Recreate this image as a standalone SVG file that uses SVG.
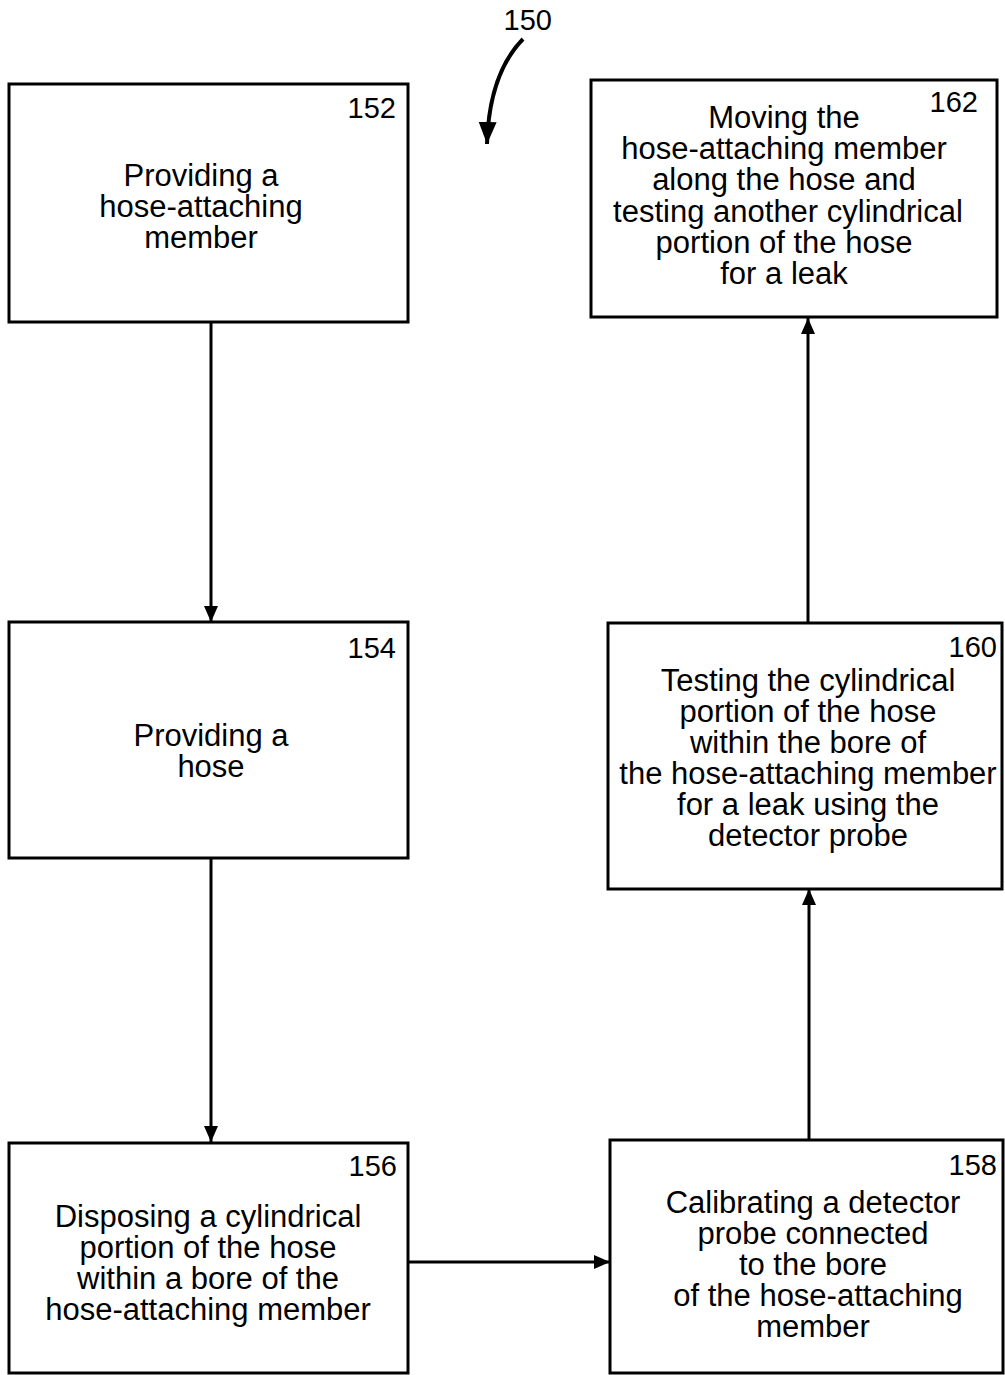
<svg xmlns="http://www.w3.org/2000/svg" width="1005" height="1375" viewBox="0 0 1005 1375">
<defs>
<marker id="ah" markerWidth="16" markerHeight="20" refX="16" refY="8" orient="auto" markerUnits="userSpaceOnUse">
<path d="M0,1 L16,8 L0,15 Z" fill="#000"/>
</marker>
<marker id="ahb" markerWidth="24" markerHeight="20" refX="22" refY="9" orient="auto" markerUnits="userSpaceOnUse">
<path d="M0,0 L22,9 L0,18 Z" fill="#000"/>
</marker>
<style>
.box{fill:#fff;stroke:#000;stroke-width:3}
.t{font-family:"Liberation Sans",Arial,sans-serif;font-size:31px;fill:#000;text-anchor:middle}
.n{font-family:"Liberation Sans",Arial,sans-serif;font-size:29px;fill:#000;text-anchor:end}
.c{fill:none;stroke:#000;stroke-width:3}
</style>
</defs>
<rect width="1005" height="1375" fill="#fff"/>
<g id="connectors">
<line class="c" x1="211" y1="322" x2="211" y2="622" marker-end="url(#ah)"/>
<line class="c" x1="211" y1="858" x2="211" y2="1142" marker-end="url(#ah)"/>
<line class="c" x1="408" y1="1262" x2="610" y2="1262" marker-end="url(#ah)"/>
<line class="c" x1="809" y1="1140" x2="809" y2="889" marker-end="url(#ah)"/>
<line class="c" x1="808" y1="622" x2="808" y2="318" marker-end="url(#ah)"/>
<path d="M523,39 Q489,74 487,144" fill="none" stroke="#000" stroke-width="4" marker-end="url(#ahb)"/>
</g>
<g id="label150"><text class="n" x="552" y="30">150</text></g>
<g id="n152">
<rect class="box" x="9" y="84" width="399" height="238"/>
<text class="n" x="396" y="118">152</text>
<text class="t" x="201" y="186">Providing a</text>
<text class="t" x="201" y="217">hose-attaching</text>
<text class="t" x="201" y="248">member</text>
</g>
<g id="n154">
<rect class="box" x="9" y="622" width="399" height="236"/>
<text class="n" x="396" y="658">154</text>
<text class="t" x="211" y="746">Providing a</text>
<text class="t" x="211" y="777">hose</text>
</g>
<g id="n156">
<rect class="box" x="9" y="1143" width="399" height="230"/>
<text class="n" x="397" y="1176">156</text>
<text class="t" x="208" y="1227">Disposing a cylindrical</text>
<text class="t" x="208" y="1258">portion of the hose</text>
<text class="t" x="208" y="1289">within a bore of the</text>
<text class="t" x="208" y="1320">hose-attaching member</text>
</g>
<g id="n158">
<rect class="box" x="610" y="1140" width="393" height="233"/>
<text class="n" x="997" y="1175">158</text>
<text class="t" x="813" y="1213">Calibrating a detector</text>
<text class="t" x="813" y="1244">probe connected</text>
<text class="t" x="813" y="1275">to the bore</text>
<text class="t" x="818" y="1306">of the hose-attaching</text>
<text class="t" x="813" y="1337">member</text>
</g>
<g id="n160">
<rect class="box" x="608" y="623" width="394" height="266"/>
<text class="n" x="997" y="657">160</text>
<text class="t" x="808" y="691">Testing the cylindrical</text>
<text class="t" x="808" y="722">portion of the hose</text>
<text class="t" x="808" y="753">within the bore of</text>
<text class="t" x="808" y="784">the hose-attaching member</text>
<text class="t" x="808" y="815">for a leak using the</text>
<text class="t" x="808" y="846">detector probe</text>
</g>
<g id="n162">
<rect class="box" x="591" y="80" width="406" height="237"/>
<text class="n" x="978" y="112">162</text>
<text class="t" x="784" y="128">Moving the</text>
<text class="t" x="784" y="159">hose-attaching member</text>
<text class="t" x="784" y="190">along the hose and</text>
<text class="t" x="788" y="222">testing another cylindrical</text>
<text class="t" x="784" y="253">portion of the hose</text>
<text class="t" x="784" y="284">for a leak</text>
</g>
</svg>
